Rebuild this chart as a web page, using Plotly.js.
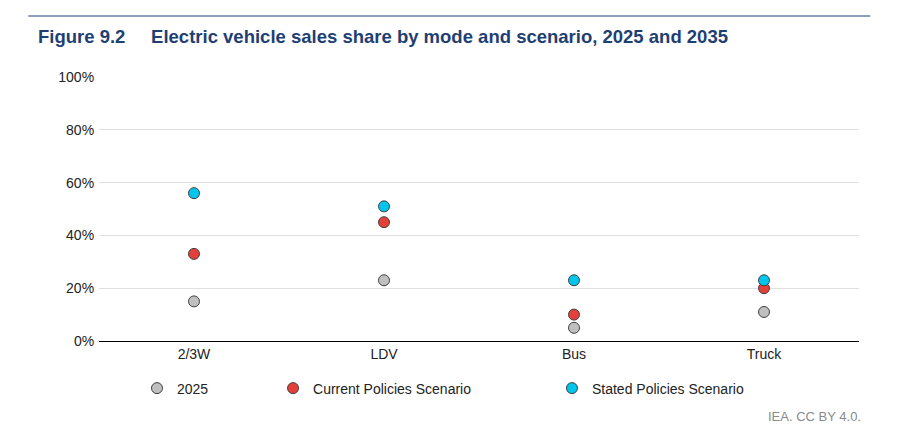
<!DOCTYPE html>
<html><head><meta charset="utf-8">
<script src="https://cdn.plot.ly/plotly-3.0.1.min.js"></script>
<style>body{margin:0}#chart{width:905px;height:432px}</style>
</head><body><div id="chart"></div>
<script>
const categories = ["2/3W", "LDV", "Bus", "Truck"];
const share2025 = [0.15, 0.23, 0.05, 0.11];
const currentPolicies = [0.33, 0.45, 0.10, 0.20];
const statedPolicies = [0.56, 0.51, 0.23, 0.23];

const series = [
  {name: "2025", y: share2025, color: "#bfbfbf", legend: "legend"},
  {name: "Current Policies Scenario", y: currentPolicies, color: "#e3403a", legend: "legend2"},
  {name: "Stated Policies Scenario", y: statedPolicies, color: "#00c6ee", legend: "legend3"}
];

const traces = series.map(s => ({
  x: categories, y: s.y, name: s.name, type: "scatter", mode: "markers",
  legend: s.legend,
  marker: {size: 11, color: s.color, line: {color: "#404040", width: 1}}
}));

const legendBase = {orientation: "h", y: -0.18, yanchor: "middle", xanchor: "left",
  font: {size: 14, color: "#222"}, bgcolor: "rgba(0,0,0,0)", itemwidth: 30};

const layout = {
  width: 905, height: 432,
  margin: {l: 99, r: 46, t: 77, b: 91, autoexpand: false},
  paper_bgcolor: "#fff", plot_bgcolor: "#fff",
  font: {family: "Liberation Sans, Arial", color: "#222"},
  xaxis: {type: "category", range: [-0.5, 3.5], showline: true, linecolor: "#000", linewidth: 1,
    ticks: "", tickfont: {size: 14}, showgrid: false},
  yaxis: {range: [0, 1], dtick: 0.2, tickformat: ".0%", showgrid: true,
    gridcolor: "#e0e0e0", zeroline: false, tickfont: {size: 14}, ticksuffix: " "},
  legend: Object.assign({x: 0.05}, legendBase),
  legend2: Object.assign({x: 0.229}, legendBase),
  legend3: Object.assign({x: 0.596}, legendBase),
  annotations: [
    {text: "<b>Figure 9.2     Electric vehicle sales share by mode and scenario, 2025 and 2035</b>",
     xref: "paper", yref: "paper", x: -0.083, y: (341 - 37) / 264, xanchor: "left", yanchor: "middle",
     showarrow: false, font: {size: 18.5, color: "#1f3f73"}},
    {text: "IEA. CC BY 4.0.", xref: "paper", yref: "paper", x: 1.005, y: (341 - 416) / 264,
     xanchor: "right", yanchor: "middle", showarrow: false,
     font: {size: 13, color: "#8a8a8a"}}
  ],
  shapes: [{type: "line", xref: "paper", yref: "paper", x0: -0.093, x1: 1.015,
    y0: (341 - 16) / 264, y1: (341 - 16) / 264, line: {color: "#1f3f73", width: 1}}],
  showlegend: true
};

Plotly.newPlot("chart", traces, layout, {displayModeBar: false});
</script></body></html>
